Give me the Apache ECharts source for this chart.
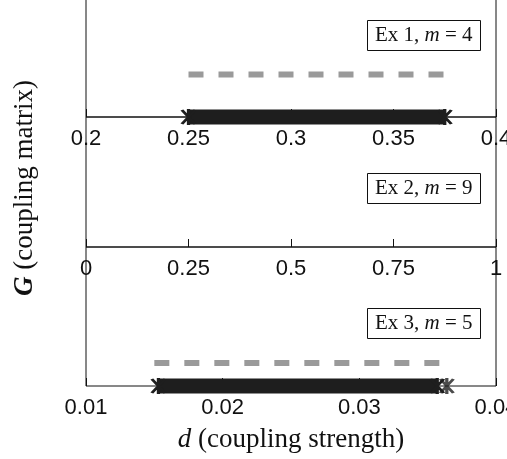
<!DOCTYPE html>
<html>
<head>
<meta charset="utf-8">
<script src="https://cdn.jsdelivr.net/npm/echarts@6/dist/echarts.min.js"></script>
<style>html,body{margin:0;padding:0;background:#fff}#c{width:507px;height:459px}</style>
</head>
<body>
<div id="c"></div>
<script>
// tick labels for each panel
const ex1Ticks = [0.2, 0.25, 0.3, 0.35, 0.4];
const ex2Ticks = [0, 0.25, 0.5, 0.75, 1];
const ex3Ticks = [0.01, 0.02, 0.03, 0.04];
// panel labels
const panelLabels = [['Ex 1, ', 'm', ' = 4'], ['Ex 2, ', 'm', ' = 9'], ['Ex 3, ', 'm', ' = 5']];
// gray dashed ranges (d start, d end) and their level
const ex1GrayRange = [0.25, 0.375];
const ex3GrayRange = [0.015, 0.0359];
const grayLevels = [0.36, 0.165];
// black marker ranges
const ex1BlackRange = [0.25, 0.375];
const ex3BlackRange = [0.0153, 0.0357];
const ex3BlackExtra = [0.0364];

const AST = 'path://M-1,-8L-1,8L1,8L1,-8Z M3.134,7.428L4.866,6.428L-3.134,-7.428L-4.866,-6.428Z M4.866,-6.428L3.134,-7.428L-4.866,6.428L-3.134,7.428Z';

const chart = echarts.init(document.getElementById('c'), null, {renderer: 'canvas'});

const grids = [
  {left: 86, right: 11, top: -1, height: 118},
  {left: 86, right: 11, top: 117, height: 130},
  {left: 86, right: 11, top: 247, height: 139}
];
function xAx(i, ticks) {
  return {
    gridIndex: i, type: 'value',
    min: ticks[0], max: ticks[ticks.length - 1], interval: ticks[1] - ticks[0],
    axisLine: {show: false},
    axisTick: {show: true, inside: true, length: 8, lineStyle: {color: '#111', width: 1}},
    axisLabel: {fontSize: 22, fontFamily: 'Liberation Sans', color: '#111', margin: 11,
      showMinLabel: true, showMaxLabel: true, hideOverlap: false,
      formatter: v => String(+v.toFixed(4))},
    splitLine: {show: false}
  };
}
const xAxes = [xAx(0, ex1Ticks), xAx(1, ex2Ticks), xAx(2, ex3Ticks)];
xAxes[2].name = '{i|d} (coupling strength)';
xAxes[2].nameLocation = 'middle';
xAxes[2].nameGap = 40;
xAxes[2].nameTextStyle = {fontFamily: 'Liberation Serif', fontSize: 27, color: '#111',
  rich: {i: {fontStyle: 'italic', fontFamily: 'Liberation Serif', fontSize: 27, color: '#111'}}};

const yAxes = [0, 1, 2].map(i => ({gridIndex: i, type: 'value', min: 0, max: 1, show: false}));

const titleTops = [20, 173, 308];
const titles = panelLabels.map((p, i) => ({
  text: '{r|' + p[0] + '}{i|' + p[1] + '}{r|' + p[2] + '}',
  left: 367, top: titleTops[i],
  borderColor: '#111', borderWidth: 1, padding: [5, 8, 5, 8],
  textStyle: {fontWeight: 'normal', rich: {
    r: {fontFamily: 'Liberation Serif', fontWeight: 'normal', fontSize: 21, color: '#111', lineHeight: 21},
    i: {fontFamily: 'Liberation Serif', fontWeight: 'normal', fontStyle: 'italic', fontSize: 21, color: '#111', lineHeight: 21}
  }}
}));

function dashed(ax, range, level) {
  return {type: 'line', xAxisIndex: ax, yAxisIndex: ax, symbol: 'none', silent: true,
    data: range.map(d => [d, level]),
    lineStyle: {color: '#9a9a9a', width: 6, type: [15, 15]}, z: 2};
}
function band(ax, range) {
  return {type: 'line', xAxisIndex: ax, yAxisIndex: ax, clip: false, silent: true,
    data: range.map(d => [d, 0]),
    symbol: AST, symbolSize: 16, showSymbol: true,
    itemStyle: {color: '#1e1e1e'},
    lineStyle: {color: '#1e1e1e', width: 15}, z: 5};
}

const option = {
  animation: false,
  backgroundColor: '#fff',
  title: titles,
  grid: grids.map(g => Object.assign({show: true, containLabel: false, outerBoundsMode: 'none',
    borderColor: '#111', borderWidth: 1, backgroundColor: 'transparent'}, g)),
  xAxis: xAxes,
  yAxis: yAxes,
  graphic: [{
    type: 'text', x: 25, y: 188, rotation: Math.PI / 2,
    style: {
      text: '{b|G} (coupling matrix)',
      fontFamily: 'Liberation Serif', fontSize: 27, fill: '#111',
      align: 'center', verticalAlign: 'middle',
      rich: {b: {fontFamily: 'Liberation Serif', fontStyle: 'italic', fontWeight: 'bold', fontSize: 27, fill: '#111'}}
    }
  }],
  series: [
    dashed(0, ex1GrayRange, grayLevels[0]),
    band(0, ex1BlackRange),
    dashed(2, ex3GrayRange, grayLevels[1]),
    band(2, ex3BlackRange),
    {type: 'scatter', xAxisIndex: 2, yAxisIndex: 2, clip: false, silent: true,
      data: ex3BlackExtra.map(d => [d, 0]), symbol: AST, symbolSize: 16,
      itemStyle: {color: '#1e1e1e'}, z: 5}
  ]
};
chart.setOption(option);
</script>
</body>
</html>
